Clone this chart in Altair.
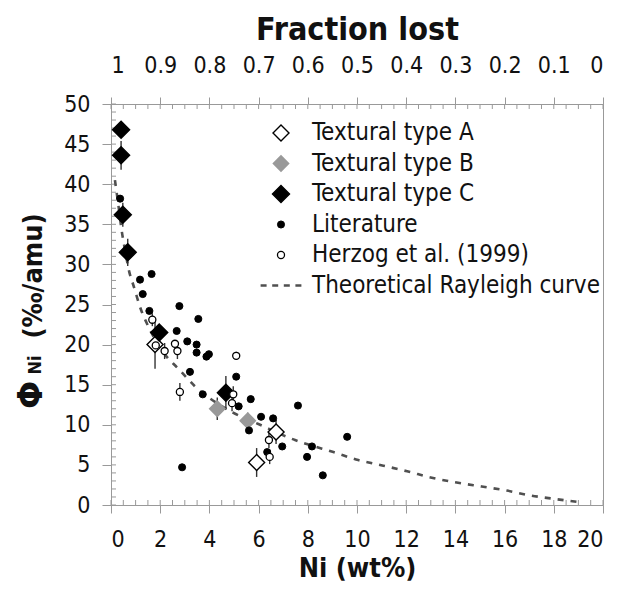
import altair as alt
import pandas as pd

FONT = "DejaVu Sans Condensed, DejaVu Sans, sans-serif"

# ---------------- data ----------------
series_names = ["Textural type A", "Textural type B", "Textural type C",
                "Literature", "Herzog et al. (1999)", "Theoretical Rayleigh curve"]

typeA_ni = [1.79, 6.71, 5.92]
typeA_phi = [20.0, 9.1, 5.3]
typeA_err = [3.0, 1.5, 1.8]

typeB_ni = [4.32, 5.56]
typeB_phi = [12.0, 10.5]
typeB_err = [1.4, 1.0]

typeC_ni = [0.41, 0.41, 0.48, 0.68, 1.96, 4.67]
typeC_phi = [46.8, 43.6, 36.2, 31.5, 21.5, 14.0]
typeC_err = [0.0, 1.8, 1.5, 1.7, 1.0, 2.1]

lit_ni = [0.37, 1.18, 1.65, 1.29, 1.56, 2.78, 3.55, 2.67, 3.10, 3.48, 3.48,
          3.88, 3.98, 3.21, 3.73, 5.09, 5.68, 5.19, 6.10, 6.59, 5.61, 7.60,
          6.96, 6.35, 8.17, 7.97, 8.61, 2.89, 9.60]
lit_phi = [38.2, 28.1, 28.8, 26.3, 24.2, 24.8, 23.2, 21.7, 20.4, 20.0, 19.0,
           18.5, 18.8, 16.6, 13.8, 16.0, 13.2, 12.3, 11.0, 10.8, 9.3, 12.4,
           7.3, 6.6, 7.3, 6.0, 3.7, 4.7, 8.5]

herzog_ni = [1.68, 1.82, 2.18, 2.60, 2.70, 2.80, 5.09, 4.97, 4.92, 6.42, 6.45]
herzog_phi = [23.1, 19.9, 19.2, 20.1, 19.2, 14.1, 18.6, 13.8, 12.7, 8.1, 6.0]
herzog_err = [0.8, 0.0, 1.0, 0.0, 1.0, 1.1, 0.5, 1.0, 1.0, 1.0, 0.9]

curve_ni = [0.16, 0.30, 0.43, 0.57, 0.74, 0.91, 1.25, 1.45, 2.26, 2.67, 3.10,
            3.41, 4.02, 4.91, 5.99, 7.48, 7.96, 9.04, 10.05, 11.07, 12.04,
            13.04, 14.05, 15.07, 16.09, 17.03, 18.05, 19.04]
curve_phi = [40.5, 37.4, 34.3, 31.8, 29.1, 27.4, 24.1, 22.7, 18.5, 17.2, 15.8,
             14.8, 13.3, 11.6, 10.1, 8.1, 7.6, 6.6, 5.6, 4.9, 4.2,
             3.4, 2.8, 2.3, 1.8, 1.2, 0.75, 0.35]

x_major = [0, 2, 4, 6, 8, 10, 12, 14, 16, 18, 20]
frac_labels = ["1", "0.9", "0.8", "0.7", "0.6", "0.5", "0.4", "0.3", "0.2", "0.1", "0"]
y_major = [0, 5, 10, 15, 20, 25, 30, 35, 40, 45, 50]
x_minor = [i / 2 for i in range(0, 41)]
y_minor = list(range(0, 51))

y_title_parts = ["Φ", "Ni", "(‰/amu)"]

# ---------------- tables ----------------
rows = []
for n, p in zip(typeA_ni, typeA_phi):
    rows.append((n, p, series_names[0]))
for n, p in zip(typeB_ni, typeB_phi):
    rows.append((n, p, series_names[1]))
for n, p in zip(typeC_ni, typeC_phi):
    rows.append((n, p, series_names[2]))
for n, p in zip(lit_ni, lit_phi):
    rows.append((n, p, series_names[3]))
for n, p in zip(herzog_ni, herzog_phi):
    rows.append((n, p, series_names[4]))
pts = pd.DataFrame(rows, columns=["ni", "phi", "series"])
pts["ord"] = range(len(pts))

err_rows = []
for ns, ps, es in [(typeA_ni, typeA_phi, typeA_err), (typeB_ni, typeB_phi, typeB_err),
                   (typeC_ni, typeC_phi, typeC_err), (herzog_ni, herzog_phi, herzog_err)]:
    for n, p, e in zip(ns, ps, es):
        if e > 0:
            err_rows.append((n, p - e, p + e))
err = pd.DataFrame(err_rows, columns=["ni", "lo", "hi"])

curve = pd.DataFrame({"ni": curve_ni, "phi": curve_phi})

W, H = 492, 401
xs = alt.Scale(domain=[0, 20], nice=False, zero=False)
ys = alt.Scale(domain=[0, 50], nice=False, zero=False)

AX = dict(domainColor="#999999", tickColor="#999999", grid=False,
          labelFont=FONT, labelFontSize=23, labelColor="#111111",
          titleFont=FONT, titleFontWeight="bold", titleColor="#111111")

frac_expr = " : ".join(
    f"datum.value == {v} ? '{lab}'" for v, lab in zip(x_major, frac_labels)
) + " : ''"

# bottom axis + inside minor ticks
bottom = alt.Chart(pd.DataFrame({"t": x_minor})).mark_rule(color="#999999", strokeWidth=1).encode(
    x=alt.X("t:Q", scale=xs, axis=alt.Axis(orient="bottom", values=x_major, tickSize=8,
                                           labelPadding=15, title="Ni (wt%)", titleFontSize=27,
                                           titlePadding=4, **AX)),
    y=alt.value(H), y2=alt.value(H - 5),
)

top = alt.Chart(pd.DataFrame({"t": x_minor})).mark_rule(color="#999999", strokeWidth=1).encode(
    x=alt.X("t:Q", scale=xs, axis=alt.Axis(orient="top", values=x_major, tickSize=7,
                                           labelPadding=20, labelExpr=frac_expr,
                                           title="Fraction lost", titleFontSize=32,
                                           titlePadding=8, **AX)),
    y=alt.value(0), y2=alt.value(5),
)

left = alt.Chart(pd.DataFrame({"t": y_minor})).mark_rule(color="#999999", strokeWidth=1).encode(
    y=alt.Y("t:Q", scale=ys, axis=alt.Axis(orient="left", values=y_major, tickSize=9,
                                           labelPadding=12, title=None, **AX)),
    x=alt.value(0), x2=alt.value(5),
)

line = alt.Chart(curve).mark_line(color="#505050", strokeWidth=2.6, strokeDash=[6, 7],
                                  interpolate="monotone").encode(
    x=alt.X("ni:Q", scale=xs, axis=None),
    y=alt.Y("phi:Q", scale=ys, axis=None),
)

bars = alt.Chart(err).mark_rule(color="#333333", strokeWidth=1.4).encode(
    x=alt.X("ni:Q", scale=xs, axis=None),
    y=alt.Y("lo:Q", scale=ys, axis=None),
    y2="hi:Q",
)

dash_path = "M-2.55,0H-1.8M-1.1,0H-0.35M0.35,0H1.1M1.8,0H2.55"

points = alt.Chart(pts).mark_point(opacity=1).encode(
    x=alt.X("ni:Q", scale=xs, axis=None),
    y=alt.Y("phi:Q", scale=ys, axis=None),
    shape=alt.Shape("series:N", scale=alt.Scale(domain=series_names,
                    range=["diamond", "diamond", "diamond", "circle", "circle", dash_path]),
                    legend=alt.Legend(title=None)),
    fill=alt.Fill("series:N", scale=alt.Scale(domain=series_names,
                  range=["#ffffff", "#999999", "#000000", "#000000", "#ffffff", "transparent"]),
                  legend=alt.Legend(title=None)),
    stroke=alt.Stroke("series:N", scale=alt.Scale(domain=series_names,
                      range=["#000000", "#999999", "#000000", "#000000", "#000000", "#505050"]),
                      legend=alt.Legend(title=None)),
    size=alt.Size("series:N", scale=alt.Scale(type="ordinal", domain=series_names,
                  range=[256, 236, 290, 50, 50, 256]),
                  legend=alt.Legend(title=None)),
    strokeWidth=alt.StrokeWidth("series:N", scale=alt.Scale(type="ordinal", domain=series_names,
                                range=[1.4, 1.4, 1.4, 1, 1.3, 2.6]),
                                legend=alt.Legend(title=None)),
    order=alt.Order("ord:Q"),
)

t_phi = alt.Chart(pd.DataFrame({"t": [y_title_parts[0]]})).mark_text(
    font="DejaVu Sans", fontWeight="bold", fontSize=33, angle=270, align="center",
    baseline="alphabetic", color="#111111").encode(
    text="t:N", x=alt.value(-69), y=alt.value(291))
t_ni = alt.Chart(pd.DataFrame({"t": [y_title_parts[1]]})).mark_text(
    font=FONT, fontWeight="bold", fontSize=18, angle=270, align="center",
    baseline="alphabetic", color="#111111").encode(
    text="t:N", x=alt.value(-70), y=alt.value(261))
t_unit = alt.Chart(pd.DataFrame({"t": [y_title_parts[2]]})).mark_text(
    font=FONT, fontWeight="bold", fontSize=27, angle=270, align="center",
    baseline="alphabetic", color="#111111").encode(
    text="t:N", x=alt.value(-69), y=alt.value(172))

chart = alt.layer(bottom, top, left, line, bars, points, t_phi, t_ni, t_unit).resolve_axis(
    x="independent", y="independent"
).properties(
    width=W, height=H,
    autosize=alt.AutoSizeParams(type="none"),
    padding={"left": 103, "top": 96, "right": 6, "bottom": 78},
).configure_view(
    stroke="#999999", strokeWidth=1
).configure_legend(
    orient="none", legendX=158, legendY=17, padding=0,
    labelFont=FONT, labelFontSize=24, labelColor="#111111",
    labelOffset=19, rowPadding=6.5, symbolOpacity=1,
    labelLimit=400,
)

chart.save("out.html", embed_options={"renderer": "svg", "actions": False})
